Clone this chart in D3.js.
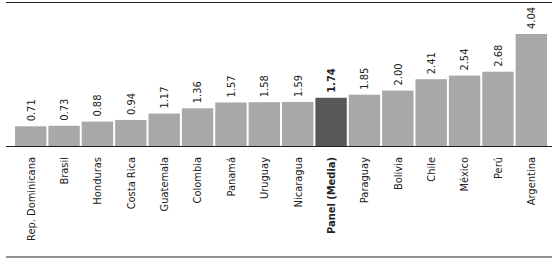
<html>
<head>
    <script src="https://d3js.org/d3.v7.min.js"></script>
</head>
<body style="margin:0;background:#fff">
    <svg id="chartArea" width="560" height="260"></svg>
    <script>
        const countries = ["Rep. Dominicana", "Brasil", "Honduras", "Costa Rica", "Guatemala", "Colombia", "Panamá", "Uruguay",
            "Nicaragua", "Panel (Media)", "Paraguay", "Bolivia", "Chile", "México", "Perú", "Argentina"];
        const values = [0.71, 0.73, 0.88, 0.94, 1.17, 1.36, 1.57, 1.58, 1.59, 1.74, 1.85, 2.00, 2.41, 2.54, 2.68, 4.04];
        const highlight = "Panel (Media)";

        const svg = d3.select("#chartArea");
        const font = "'Liberation Sans Narrow', 'DejaVu Sans Condensed', sans-serif";
        const baseY = 146;

        const data = countries.map((c, i) => ({ name: c, value: values[i] }));

        const xScale = d3.scaleBand()
            .domain(countries)
            .range([15, 547])
            .paddingInner(0.06)
            .paddingOuter(0);

        const yScale = d3.scaleLinear()
            .domain([0, 4.04])
            .range([baseY, 34]);

        // frame lines
        svg.append("line").attr("x1", 6).attr("x2", 552).attr("y1", 2.5).attr("y2", 2.5)
            .attr("stroke", "#222").attr("stroke-width", 1.2);
        svg.append("line").attr("x1", 6).attr("x2", 552).attr("y1", 257).attr("y2", 257)
            .attr("stroke", "#222").attr("stroke-width", 1.2);

        // bars
        svg.selectAll("rect.bar").data(data)
            .join("rect")
            .attr("class", "bar")
            .attr("x", d => xScale(d.name))
            .attr("width", xScale.bandwidth())
            .attr("y", d => yScale(d.value))
            .attr("height", d => baseY - yScale(d.value))
            .attr("fill", d => d.name === highlight ? "#58585a" : "#a7a8aa");

        // baseline
        svg.append("line").attr("x1", 6).attr("x2", 552).attr("y1", baseY + 0.5).attr("y2", baseY + 0.5)
            .attr("stroke", "#222").attr("stroke-width", 1.2);

        // value labels
        svg.selectAll("text.val").data(data)
            .join("text")
            .attr("class", "val")
            .attr("transform", d => `translate(${xScale(d.name) + xScale.bandwidth() / 2},${yScale(d.value) - 5}) rotate(-90)`)
            .attr("dy", "0.35em")
            .attr("text-anchor", "start")
            .attr("font-family", font)
            .attr("font-size", "11px")
            .attr("font-weight", d => d.name === highlight ? "bold" : "normal")
            .attr("fill", "#222")
            .text(d => d.value.toFixed(2));

        // category labels
        svg.selectAll("text.cat").data(data)
            .join("text")
            .attr("class", "cat")
            .attr("transform", d => `translate(${xScale(d.name) + xScale.bandwidth() / 2},157) rotate(-90)`)
            .attr("dy", "0.35em")
            .attr("text-anchor", "end")
            .attr("font-family", font)
            .attr("font-size", "11px")
            .attr("font-weight", d => d.name === highlight ? "bold" : "normal")
            .attr("fill", "#222")
            .text(d => d.name);
    </script>
</body>
</html>
